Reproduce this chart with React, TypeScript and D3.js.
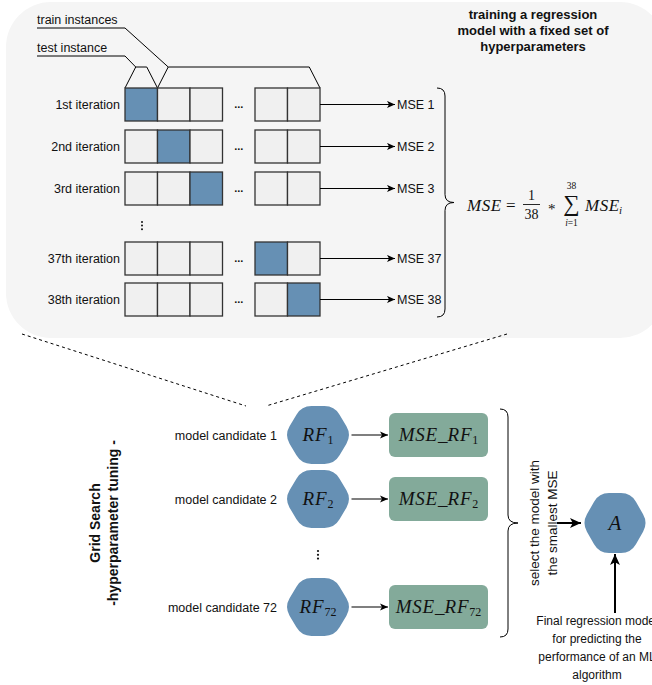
import React from "react";
import * as d3 from "d3";

// ---------- data ----------
const iterationNumbers = [1, 2, 3, 37, 38];
const iterationLabels = ["1st iteration", "2nd iteration", "3rd iteration", "37th iteration", "38th iteration"];
const testCellIndex = [0, 1, 2, 3, 4];
const mseLabels = ["MSE 1", "MSE 2", "MSE 3", "MSE 37", "MSE 38"];
const cellSlots = [0, 1, 2, 4, 5];
const candidateNumbers = [1, 2, 72];
const candidateLabels = ["model candidate 1", "model candidate 2", "model candidate 72"];
const titleLines = ["training a regression", "model with a fixed set of", "hyperparameters"];
const gridLines = ["Grid Search", "-hyperparameter tuning -"];
const selectLines = ["select the model with", "the smallest MSE"];
const finalLines = ["Final regression model", "for predicting the", "performance of an ML", "algorithm"];

// ---------- style ----------
const SANS = "'Liberation Sans', Arial, Helvetica, sans-serif";
const SERIF = "'Liberation Serif', 'Times New Roman', serif";
const BLUE = "#6690b4";
const GREEN = "#83aa9a";
const CELL = "#f0f0f0";
const BG = "#f5f5f5";
const INK = "#111";

// ---------- scales ----------
const xCell = d3.scaleLinear().domain([0, 6]).range([125, 320]);
const yRow = d3.scaleLinear().domain([1, 3, 37, 38]).range([88, 172, 242, 283]);
const ROW_H = 33;
const yCand = d3.scaleLinear().domain([1, 2, 72]).range([435, 499, 607]);

function roundedPoly(pts: [number, number][], r: number) {
  const n = pts.length;
  let d = "";
  for (let i = 0; i < n; i++) {
    const p = pts[i];
    const prev = pts[(i - 1 + n) % n];
    const next = pts[(i + 1) % n];
    const d1 = Math.hypot(prev[0] - p[0], prev[1] - p[1]);
    const d2 = Math.hypot(next[0] - p[0], next[1] - p[1]);
    const r1 = Math.min(r, d1 / 2);
    const r2 = Math.min(r, d2 / 2);
    const a = [p[0] + ((prev[0] - p[0]) * r1) / d1, p[1] + ((prev[1] - p[1]) * r1) / d1];
    const b = [p[0] + ((next[0] - p[0]) * r2) / d2, p[1] + ((next[1] - p[1]) * r2) / d2];
    d += `${i === 0 ? "M" : "L"}${a[0]},${a[1]} Q${p[0]},${p[1]} ${b[0]},${b[1]} `;
  }
  return d + "Z";
}

function hexagon(cx: number, cy: number, w: number, h: number, s: number, r: number) {
  const pts: [number, number][] = [
    [cx - w / 2, cy],
    [cx - w / 2 + s, cy - h / 2],
    [cx + w / 2 - s, cy - h / 2],
    [cx + w / 2, cy],
    [cx + w / 2 - s, cy + h / 2],
    [cx - w / 2 + s, cy + h / 2],
  ];
  return roundedPoly(pts, r);
}

function brace(x: number, top: number, bottom: number, depth: number, tip: number) {
  const mid = (top + bottom) / 2;
  const bx = x + depth;
  const c = 8;
  return `M${x},${top} Q${bx},${top} ${bx},${top + c} L${bx},${mid - c} Q${bx},${mid} ${bx + tip},${mid} Q${bx},${mid} ${bx},${mid + c} L${bx},${bottom - c} Q${bx},${bottom} ${x},${bottom}`;
}

export default function App() {
  const hexW = 67;
  const hexH = 58;
  const hexCx = 318;
  const boxX = 389;
  const boxW = 99;
  const boxH = 44;
  const Acx = 615;
  const Acy = 523;
  return (
    <div style={{ position: "absolute", left: 0, top: 0 }}>
      <svg width={652} height={685} style={{ display: "block", background: "#fff" }}>
        <defs>
          <marker id="arr" viewBox="0 0 10 10" refX="10" refY="5" markerWidth="9" markerHeight="8" markerUnits="userSpaceOnUse" orient="auto">
            <path d="M0,0.5 L10,5 L0,9.5 L2.5,5 Z" fill="#000" />
          </marker>
          <marker id="arrB" viewBox="0 0 10 10" refX="10" refY="5" markerWidth="12" markerHeight="11" markerUnits="userSpaceOnUse" orient="auto">
            <path d="M0,0.5 L10,5 L0,9.5 L2.5,5 Z" fill="#000" />
          </marker>
        </defs>

        {/* background panel */}
        <rect x={6} y={2} width={659} height={336} rx={45} ry={45} fill={BG} />

        {/* dashed zoom lines */}
        <line x1={22} y1={334} x2={246} y2={406} stroke="#000" strokeWidth={1} strokeDasharray="3 3" />
        <line x1={507} y1={334} x2={266} y2={406} stroke="#000" strokeWidth={1} strokeDasharray="3 3" />

        {/* title */}
        {titleLines.map((t, i) => (
          <text key={t} x={533} y={19 + i * 16} textAnchor="middle" fontFamily={SANS} fontWeight="bold" fontSize={13} fill={INK}>
            {t}
          </text>
        ))}

        {/* train / test annotations */}
        <text x={37} y={24} fontFamily={SANS} fontSize={12.5} fill={INK}>train instances</text>
        <text x={37} y={52} fontFamily={SANS} fontSize={12.5} fill={INK}>test instance</text>
        <polyline points={`37,28 125,28 ${xCell(1.33)},67`} fill="none" stroke="#000" strokeWidth={1} />
        <polyline points={`37,56 125,56 ${xCell(0.33)},67`} fill="none" stroke="#000" strokeWidth={1} />
        <polyline
          points={`${xCell(0)},${yRow(1)} ${xCell(0.33)},67 ${xCell(0.67)},67 ${xCell(1)},${yRow(1)}`}
          fill="none" stroke="#000" strokeWidth={1}
        />
        <polyline
          points={`${xCell(1)},${yRow(1)} ${xCell(1.33)},67 ${xCell(5.67)},67 ${xCell(6)},${yRow(1)}`}
          fill="none" stroke="#000" strokeWidth={1}
        />

        {/* iteration rows */}
        {iterationNumbers.map((n, r) => {
          const y = yRow(n);
          return (
            <g key={n}>
              <text x={120} y={y + ROW_H / 2 + 4.5} textAnchor="end" fontFamily={SANS} fontSize={12.5} fill={INK}>
                {iterationLabels[r]}
              </text>
              {cellSlots.map((s, c) => (
                <rect
                  key={c}
                  x={xCell(s)}
                  y={y}
                  width={xCell(s + 1) - xCell(s)}
                  height={ROW_H}
                  fill={testCellIndex[r] === c ? BLUE : CELL}
                  stroke="#333"
                  strokeWidth={1.3}
                />
              ))}
              <text x={xCell(3.5)} y={y + ROW_H / 2 + 3} textAnchor="middle" fontFamily={SANS} fontWeight="bold" fontSize={11} fill={INK}>
                ...
              </text>
              <line x1={xCell(6)} y1={y + ROW_H / 2} x2={395} y2={y + ROW_H / 2} stroke="#000" strokeWidth={1} markerEnd="url(#arr)" />
              <text x={397} y={y + ROW_H / 2 + 4.5} fontFamily={SANS} fontSize={12.5} fill={INK}>
                {mseLabels[r]}
              </text>
            </g>
          );
        })}
        {/* vertical ellipsis */}
        {[0, 1, 2].map((k) => (
          <circle key={k} cx={142} cy={222 + k * 3.6} r={1} fill={INK} />
        ))}

        {/* top brace */}
        <path d={brace(437, 88, 317, 8, 9)} fill="none" stroke="#000" strokeWidth={1} />

        {/* formula */}
        <g fontFamily={SERIF} fill={INK}>
          <text x={467} y={211} fontStyle="italic" fontSize={17} letterSpacing={0.6}>MSE</text>
          <text x={506} y={211} fontSize={17}>=</text>
          <text x={531.5} y={200} fontSize={14} textAnchor="middle">1</text>
          <line x1={523} y1={204.5} x2={540} y2={204.5} stroke={INK} strokeWidth={0.9} />
          <text x={531.5} y={219} fontSize={14} textAnchor="middle">38</text>
          <text x={548} y={214} fontSize={15}>*</text>
          <text x={571.5} y={189} fontSize={9.5} textAnchor="middle">38</text>
          <text x={571.5} y={211} fontSize={23} textAnchor="middle">∑</text>
          <text x={571.5} y={226} fontSize={9.5} textAnchor="middle">
            <tspan fontStyle="italic">i</tspan>=1
          </text>
          <text x={585} y={211} fontStyle="italic" fontSize={17} letterSpacing={0.6}>MSE</text>
          <text x={619} y={214} fontStyle="italic" fontSize={11}>i</text>
        </g>

        {/* grid search label */}
        {gridLines.map((t, i) => (
          <text
            key={t}
            transform={`translate(${100 + i * 18},523) rotate(-90)`}
            textAnchor="middle"
            fontFamily={SANS}
            fontWeight="bold"
            fontSize={14}
            fill={INK}
          >
            {t}
          </text>
        ))}

        {/* candidates */}
        {candidateNumbers.map((n, i) => {
          const cy = yCand(n);
          return (
            <g key={n}>
              <text x={277} y={cy + 4.5} textAnchor="end" fontFamily={SANS} fontSize={12.5} fill={INK}>
                {candidateLabels[i]}
              </text>
              <path d={hexagon(hexCx, cy, hexW, hexH, 17, 10)} fill={BLUE} />
              <text x={hexCx} y={cy + 6} textAnchor="middle" fontFamily={SERIF} fill={INK}>
                <tspan fontStyle="italic" fontSize={19} letterSpacing={1}>RF</tspan>
                <tspan fontSize={12} dy={3}>{n}</tspan>
              </text>
              <line x1={hexCx + hexW / 2} y1={cy} x2={boxX - 1} y2={cy} stroke="#000" strokeWidth={1.2} markerEnd="url(#arr)" />
              <rect x={boxX} y={cy - boxH / 2} width={boxW} height={boxH} rx={6} fill={GREEN} />
              <text x={boxX + boxW / 2} y={cy + 6} textAnchor="middle" fontFamily={SERIF} fill={INK}>
                <tspan fontStyle="italic" fontSize={19} letterSpacing={0.8}>MSE</tspan>
                <tspan fontSize={19}>_</tspan>
                <tspan fontStyle="italic" fontSize={19} letterSpacing={0.8}>RF</tspan>
                <tspan fontSize={12} dy={3}>{n}</tspan>
              </text>
            </g>
          );
        })}
        {[0, 1, 2].map((k) => (
          <circle key={k} cx={hexCx} cy={551 + k * 3.8} r={1.1} fill={INK} />
        ))}

        {/* bottom brace */}
        <path d={brace(500, 409, 637, 8, 10)} fill="none" stroke="#000" strokeWidth={1} />

        {/* select label */}
        {selectLines.map((t, i) => (
          <text
            key={t}
            transform={`translate(${539 + i * 18},523) rotate(-90)`}
            textAnchor="middle"
            fontFamily={SANS}
            fontSize={13.5}
            fill={INK}
          >
            {t}
          </text>
        ))}

        {/* arrow to A */}
        <line x1={557} y1={Acy} x2={581} y2={Acy} stroke="#000" strokeWidth={2} markerEnd="url(#arrB)" />
        <path d={hexagon(Acx, Acy, 66, 60, 17, 10)} fill={BLUE} />
        <text x={Acx} y={Acy + 7} textAnchor="middle" fontFamily={SERIF} fontStyle="italic" fontSize={21} fill={INK}>A</text>
        <line x1={Acx} y1={613} x2={Acx} y2={554} stroke="#000" strokeWidth={2} markerEnd="url(#arrB)" />

        {/* final label */}
        {finalLines.map((t, i) => (
          <text key={t} x={597} y={625 + i * 18} textAnchor="middle" fontFamily={SANS} fontSize={12} fill={INK}>
            {t}
          </text>
        ))}
      </svg>
    </div>
  );
}
